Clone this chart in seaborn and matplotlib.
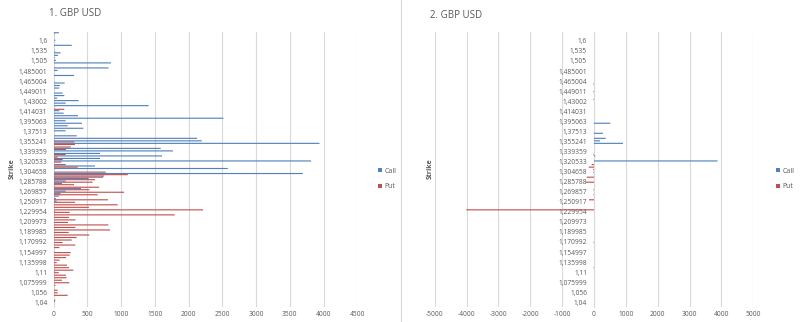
import matplotlib
matplotlib.use("Agg")
import matplotlib.pyplot as plt
import pandas as pd
import seaborn as sns
from matplotlib.lines import Line2D

# Strike ladder, lowest first
strikes = [
    1.04, 1.045, 1.05, 1.053, 1.056, 1.06, 1.065, 1.07,
    1.075999, 1.08, 1.09, 1.1, 1.11, 1.115, 1.12, 1.13,
    1.135998, 1.14, 1.145, 1.15, 1.154997, 1.16, 1.164995, 1.166,
    1.170992, 1.175, 1.18, 1.184989, 1.189985, 1.195, 1.199981, 1.205,
    1.209973, 1.215, 1.219968, 1.225, 1.229954, 1.235, 1.239937, 1.245,
    1.250917, 1.255, 1.26, 1.265, 1.269857, 1.275, 1.279823, 1.28,
    1.285788, 1.29, 1.295, 1.3, 1.304658, 1.31, 1.315, 1.318,
    1.320533, 1.325, 1.33, 1.335, 1.339359, 1.345, 1.35, 1.352,
    1.355241, 1.36, 1.365, 1.37, 1.37513, 1.38, 1.385, 1.39,
    1.395063, 1.4, 1.405, 1.41, 1.414031, 1.42, 1.425, 1.428,
    1.43002, 1.435, 1.44, 1.445, 1.449011, 1.455, 1.46, 1.462,
    1.465004, 1.47, 1.475, 1.48, 1.485001, 1.49, 1.495, 1.5,
    1.505, 1.51, 1.515, 1.525, 1.535, 1.545, 1.555, 1.575,
    1.6, 1.625, 1.65, 1.7,
]

# Panel 1: open interest per strike
call_oi = [
    18, 0, 0, 0, 0, 0, 0, 0,
    0, 0, 0, 0, 15, 0, 0, 0,
    0, 0, 0, 0, 10, 0, 0, 0,
    0, 0, 0, 0, 10, 0, 0, 0,
    0, 0, 0, 0, 20, 0, 0, 0,
    47, 37, 80, 106, 180, 408, 0, 126,
    180, 521, 750, 3693, 0, 2581, 615, 0,
    3816, 690, 1608, 690, 1770, 1588, 0, 3940,
    2196, 2127, 343, 0, 180, 442, 210, 422,
    180, 2517, 363, 150, 86, 0, 1410, 180,
    373, 55, 160, 135, 0, 85, 95, 165,
    0, 0, 305, 0, 60, 815, 0, 850,
    35, 20, 65, 105, 0, 0, 270, 0,
    25, 0, 0, 80,
]
put_oi = [
    0, 27, 0, 210, 62, 62, 0, 27,
    235, 126, 195, 185, 77, 294, 230, 200,
    47, 91, 185, 240, 254, 0, 86, 324,
    136, 270, 343, 531, 225, 838, 324, 813,
    215, 328, 230, 1795, 240, 2215, 526, 951,
    319, 808, 0, 655, 1045, 531, 675, 304,
    580, 615, 734, 1100, 773, 0, 358, 180,
    116, 136, 60, 180, 0, 185, 254, 318,
    309, 0, 0, 0, 0, 0, 0, 0,
    0, 0, 0, 0, 0, 160, 0, 0,
    0, 0, 0, 0, 0, 0, 0, 0,
    10, 0, 0, 0, 0, 0, 0, 0,
    0, 0, 0, 0, 15, 0, 0, 0,
    0, 0, 0, 15,
]

# Panel 2: change per strike (puts negative)
call_chg = [
    0, 0, 0, 0, 0, 0, 0, 0,
    0, 0, 0, 0, 0, 0, 0, 0,
    0, 0, 0, 0, 0, 0, 0, 0,
    0, 0, 0, 0, 0, 0, 0, 0,
    0, 0, 0, 0, 0, 0, 0, 0,
    0, 0, 0, 0, 0, 0, 0, 0,
    0, 0, 0, 0, 0, 0, 0, 0,
    3880, 0, 40, 0, 0, 0, 0, 910,
    188, 366, 0, 282, 0, 0, 0, 513,
    0, 0, 0, 0, 0, 0, 0, 0,
    0, 0, 0, 0, 0, 0, 0, 0,
    0, 0, 0, 0, 0, 0, 0, 0,
    0, 0, 0, 0, 0, 0, 0, 0,
    0, 0, 0, 0,
]
put_chg = [
    0, 0, 0, 0, 0, 0, 0, 0,
    0, 0, 0, 0, 0, 0, -15, 0,
    0, 0, 0, 0, 0, 0, 0, 0,
    -15, 0, 0, 0, 0, 0, 0, 0,
    0, 0, 0, 0, 0, -4008, 0, 0,
    0, -157, 0, -15, 0, -20, 0, 0,
    -261, 0, -230, 0, -20, -25, -167, -73,
    0, 0, 0, -20, 0, 0, 0, 0,
    0, 0, 0, 0, 0, 0, 0, 0,
    0, 0, 0, 0, 0, 0, 0, 0,
    0, -20, 0, 0, -20, 0, 0, -20,
    0, 0, 0, 0, 0, 0, 0, 0,
    0, 0, 0, 0, 0, 0, 0, 0,
    0, 0, 0, 0,
]

series = ["Call", "Put"]
colors = {"Call": "#4F81BD", "Put": "#C0504D"}
text_color = "#595959"
grid_color = "#D9D9D9"

sns.set_theme(style="white")
plt.rcParams["font.family"] = ["Open Sans", "DejaVu Sans"]
plt.rcParams["axes.unicode_minus"] = False

labels = [str(s).replace(".", ",") for s in strikes]
n = len(labels)
order = labels[::-1]  # highest strike at the top


def long_frame(calls, puts):
    return pd.DataFrame({
        "Strike": labels + labels,
        "Type": ["Call"] * n + ["Put"] * n,
        "Value": list(calls) + list(puts),
    })


W, H = 800, 322
fig = plt.figure(figsize=(W / 100, H / 100), dpi=100)
top_px, bot_px = 32.3, 306.7
ax1 = fig.add_axes([53.5 / W, 1 - bot_px / H, (357.3 - 53.5) / W, (bot_px - top_px) / H])
ax2 = fig.add_axes([434.7 / W, 1 - bot_px / H, (753.3 - 434.7) / W, (bot_px - top_px) / H])

for ax, df in ((ax1, long_frame(call_oi, put_oi)), (ax2, long_frame(call_chg, put_chg))):
    sns.barplot(data=df, y="Strike", x="Value", hue="Type", order=order,
                hue_order=series, palette=colors, saturation=1, orient="h",
                width=0.9, errorbar=None, linewidth=0, edgecolor="none",
                snap=False, legend=False, ax=ax, zorder=3)
    tick_idx = list(range(0, 105, 4))
    ax.set_yticks([n - 1 - i for i in tick_idx])
    ax.set_yticklabels([labels[i] for i in tick_idx])
    ax.set_ylim(n - 1 + 1.75, n - 1 - 107.4)
    ax.set_xlabel("")
    ax.set_ylabel("")
    ax.grid(axis="x", color=grid_color, linewidth=0.8, zorder=0)
    ax.set_axisbelow(True)
    for side in ("top", "right", "bottom"):
        ax.spines[side].set_visible(False)
    ax.spines["left"].set_color(grid_color)
    ax.spines["left"].set_linewidth(0.8)
    ax.tick_params(axis="both", length=0, labelsize=4.8, colors=text_color)
    ax.tick_params(axis="x", pad=3)

ax1.set_xlim(0, 4500)
ax1.set_xticks(range(0, 4501, 500))
ax1.tick_params(axis="y", pad=4.5)

ax2.set_xlim(-5000, 5000)
ax2.set_xticks(range(-5000, 5001, 1000))
ax2.spines["left"].set_position(("data", 0))
ax2.tick_params(axis="y", pad=5)

# Titles and axis titles
fig.text(49 / W, 1 - 14 / H, "1. GBP USD", fontsize=7, color=text_color, ha="left", va="center")
fig.text(430.5 / W, 1 - 15 / H, "2. GBP USD", fontsize=7, color=text_color, ha="left", va="center")
fig.text(12 / W, 1 - 168.5 / H, "Strike", fontsize=5, fontweight="bold", color=text_color,
         rotation=90, ha="center", va="center")
fig.text(430 / W, 1 - 168.5 / H, "Strike", fontsize=5, fontweight="bold", color=text_color,
         rotation=90, ha="center", va="center")

# Legends
handles = [Line2D([], [], marker="s", linestyle="", markersize=3.2,
                  markerfacecolor=colors[s], markeredgewidth=0) for s in series]
for x_px in (374, 772):
    fig.legend(handles, series, loc="center left",
               bbox_to_anchor=(x_px / W, 1 - 179 / H), frameon=False,
               fontsize=5, handlelength=0.6, handletextpad=0.4, labelspacing=1.25,
               borderpad=0, labelcolor=text_color)

# Border between the two charts
fig.add_artist(Line2D([400.5 / W, 400.5 / W], [0, 1], color=grid_color, linewidth=0.8))

fig.savefig("out.png", dpi=100, facecolor="white")
